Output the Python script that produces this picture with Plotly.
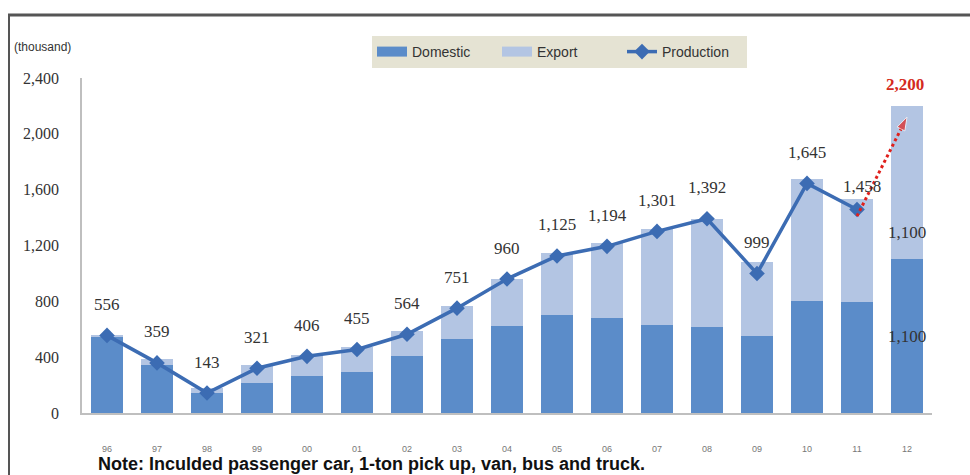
import plotly.graph_objects as go

# ---- data (thousand units) ----
years = ["96", "97", "98", "99", "00", "01", "02", "03", "04", "05", "06", "07", "08", "09", "10", "11", "12"]
domestic = [545, 345, 140, 218, 262, 297, 409, 533, 626, 703, 682, 631, 615, 549, 800, 794, 1100]
export = [14, 42, 40, 126, 153, 175, 181, 235, 332, 441, 539, 690, 776, 536, 880, 740, 1100]
production_years = years[:-1]
production = [556, 359, 143, 321, 406, 455, 564, 751, 960, 1125, 1194, 1301, 1392, 999, 1645, 1458]
forecast_years = ["11", "12"]
forecast_line = [1410, 2120]
target_total = "2,200"
target_split = "1,100"

W, H = 970, 475
L, R, T, B = 82, 38, 78, 62
pw, ph = W - L - R, H - T - B


def px(x):
    return (x - L) / pw


def py(y):
    return (H - B - y) / ph


DARK = "#5b8cc9"
LIGHT = "#b3c5e3"
LINE = "#3c6cb3"
SERIF = "Liberation Serif, DejaVu Serif, serif"
SANS = "Liberation Sans, Arial, sans-serif"

fig = go.Figure()
fig.add_trace(go.Bar(x=years, y=domestic, name="Domestic", showlegend=False,
                     marker=dict(color=DARK, line=dict(width=0))))
fig.add_trace(go.Bar(x=years, y=export, name="Export", showlegend=False,
                     marker=dict(color=LIGHT, line=dict(width=0))))
# legend swatches (wide rectangles as in the reference)
fig.add_trace(go.Scatter(x=[None], y=[None], mode="lines", name="Domestic", legendrank=1,
                         line=dict(color=DARK, width=11)))
fig.add_trace(go.Scatter(x=[None], y=[None], mode="lines", name="Export", legendrank=2,
                         line=dict(color=LIGHT, width=11)))
fig.add_trace(go.Scatter(
    x=production_years, y=production, name="Production", mode="lines+markers", legendrank=3,
    line=dict(color=LINE, width=3.5),
    marker=dict(symbol="diamond", size=12, color=LINE),
))
fig.add_trace(go.Scatter(
    x=forecast_years, y=forecast_line, mode="lines+markers", showlegend=False,
    line=dict(color="#e0201c", width=3, dash="dot"),
    marker=dict(symbol="arrow", angleref="previous", size=[0, 14], color="#e0201c"),
))

annotations = []
for i, v in enumerate(production):
    xs, ys = 0, 31
    if production_years[i] == "11":
        xs, ys = 5, 23
    annotations.append(dict(
        x=i, y=v, xref="x", yref="y", text=f"{v:,}", showarrow=False,
        xshift=xs, yshift=ys, font=dict(family=SERIF, size=17, color="#333333"),
    ))

last = len(years) - 1
tot = domestic[-1] + export[-1]
annotations.append(dict(x=last, y=tot, text=target_total, showarrow=False, yanchor="bottom",
                        yshift=10, xshift=-2,
                        font=dict(family=SERIF, size=17, color="#d42a20", weight="bold")))
annotations.append(dict(x=last, y=domestic[-1] / 2, text=target_split, showarrow=False,
                        font=dict(family=SERIF, size=17, color="#333333")))
annotations.append(dict(x=last, y=domestic[-1], text=target_split, showarrow=False,
                        yanchor="bottom", yshift=15,
                        font=dict(family=SERIF, size=17, color="#333333")))

annotations.append(dict(xref="paper", yref="paper", x=px(12), y=py(47), xanchor="left", yanchor="middle",
                        text="(thousand)", showarrow=False,
                        font=dict(family=SANS, size=12, color="#333333")))
annotations.append(dict(xref="paper", yref="paper", x=px(96), y=py(464), xanchor="left", yanchor="middle",
                        text="Note: Inculded passenger car, 1-ton pick up, van, bus and truck.", showarrow=False,
                        font=dict(family=SANS, size=18, color="#111111", weight="bold")))

shapes = [
    dict(type="line", xref="paper", yref="paper", x0=px(8), x1=px(970), y0=py(15), y1=py(15),
         line=dict(color="#555555", width=3)),
    dict(type="line", xref="paper", yref="paper", x0=px(9), x1=px(9), y0=py(15), y1=py(475),
         line=dict(color="#555555", width=2)),
]

fig.update_layout(
    width=W, height=H,
    margin=dict(l=L, r=R, t=T, b=B, pad=0),
    paper_bgcolor="white", plot_bgcolor="white",
    barmode="stack", bargap=0.36,
    showlegend=True,
    legend=dict(orientation="h", x=px(372), y=py(36), xanchor="left", yanchor="top",
                bgcolor="#e5e3d3", font=dict(family=SANS, size=14, color="#333333"),
                traceorder="normal", itemwidth=30, entrywidth=80),
    xaxis=dict(type="category", range=[-0.5, 16.5], showline=True, linecolor="#bfbfbf", linewidth=1.5,
               showgrid=False, ticks="", tickfont=dict(family=SANS, size=9, color="#777777"),
               ticklabelstandoff=26, fixedrange=True),
    yaxis=dict(range=[0, 2400], tickvals=[0, 400, 800, 1200, 1600, 2000, 2400],
               ticktext=["0", "400", "800", "1,200", "1,600", "2,000", "2,400"],
               showline=True, linecolor="#bfbfbf", linewidth=1.5, showgrid=False, ticks="",
               zeroline=False,
               tickfont=dict(family=SERIF, size=16, color="#333333"), ticklabelstandoff=18),
    annotations=annotations,
    shapes=shapes,
)

fig.write_html("out.html")
